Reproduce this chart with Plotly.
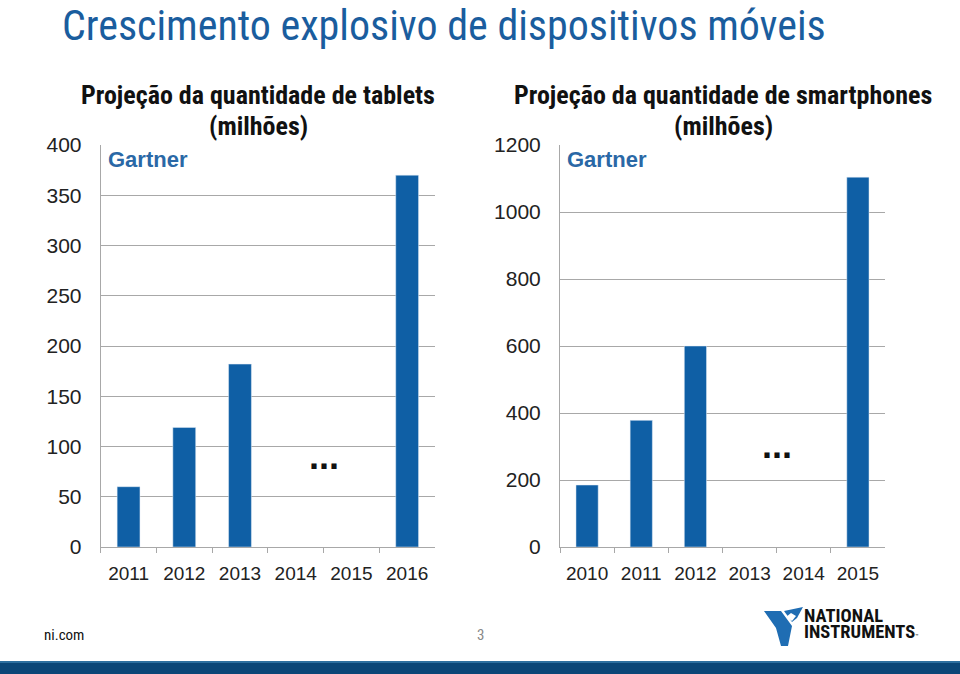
import plotly.graph_objects as go

# ---- data ----
tablet_years = ["2011", "2012", "2013", "2014", "2015", "2016"]
tablet_units = [60, 119, 182, None, None, 370]
phone_years = ["2010", "2011", "2012", "2013", "2014", "2015"]
phone_units = [185, 378, 600, None, None, 1104]

BLUE = "#0f5fa5"
GRID = "#a8a8a8"
NARROW = "Liberation Sans Narrow, Arial Narrow, Roboto Condensed, Liberation Sans, Arial"
W, H = 960, 674

fig = go.Figure()
fig.add_trace(go.Bar(x=tablet_years, y=tablet_units, marker_color=BLUE,
                     xaxis="x", yaxis="y", width=0.41, showlegend=False))
fig.add_trace(go.Bar(x=phone_years, y=phone_units, marker_color=BLUE,
                     xaxis="x2", yaxis="y2", width=0.41, showlegend=False))

def px(x):
    return x / W

def py(y):
    return 1 - y / H

tickfont_y = dict(family="Liberation Sans, Arial", size=21, color="#222")
tickfont_x = dict(family="Liberation Sans, Arial", size=19, color="#222")

common_x = dict(type="category", showline=True, linecolor=GRID, linewidth=1,
                ticks="outside", tickson="boundaries", ticklen=5, tickcolor=GRID,
                tickfont=tickfont_x, showgrid=False, zeroline=False, fixedrange=True,
                automargin=False, ticklabelstandoff=9)
common_y = dict(showline=True, linecolor=GRID, linewidth=1, showgrid=True,
                gridcolor=GRID, gridwidth=1, ticks="", tickfont=tickfont_y,
                zeroline=False, ticklabelstandoff=14, fixedrange=True, automargin=False)

fig.update_layout(
    width=W, height=H, margin=dict(l=0, r=0, t=0, b=0, pad=0, autoexpand=False),
    paper_bgcolor="white", plot_bgcolor="white",
    bargap=0.59,
    xaxis=dict(domain=[px(100.7), px(435)], anchor="y", **common_x),
    yaxis=dict(domain=[py(547), py(145)], anchor="x", range=[0, 400], dtick=50, **common_y),
    xaxis2=dict(domain=[px(560), px(885)], anchor="y2", **common_x),
    yaxis2=dict(domain=[py(547), py(145)], anchor="x2", range=[0, 1200], dtick=200, **common_y),
)

ann = []
# main title
ann.append(dict(text="Crescimento explosivo de dispositivos móveis", x=px(60), y=py(25),
                xref="paper", yref="paper", xanchor="left", yanchor="middle", showarrow=False,
                font=dict(family=NARROW, size=42, color="#1a5d9e")))
# chart titles
for cx, t in [(258, "Projeção da quantidade de tablets"), (723, "Projeção da quantidade de smartphones")]:
    ann.append(dict(text="<b>" + t + "</b>", x=px(cx), y=py(95), xref="paper", yref="paper",
                    xanchor="center", yanchor="middle", showarrow=False,
                    font=dict(family=NARROW, size=26, color="#111")))
    ann.append(dict(text="<b>(milhões)</b>", x=px(cx), y=py(126), xref="paper", yref="paper",
                    xanchor="center", yanchor="middle", showarrow=False,
                    font=dict(family=NARROW, size=26, color="#111")))
# Gartner logos
for gx in [106, 565]:
    ann.append(dict(text="<b>Gartner</b>", x=px(gx), y=py(159), xref="paper", yref="paper",
                    xanchor="left", yanchor="middle", showarrow=False,
                    font=dict(family="Liberation Sans, Arial", size=22, color="#2a68a6")))
# ellipses
ann.append(dict(text="<b>...</b>", x=3.5, y=90, xref="x", yref="y", showarrow=False,
                yanchor="middle", font=dict(family="Liberation Sans, Arial", size=36, color="#111")))
ann.append(dict(text="<b>...</b>", x=3.5, y=302, xref="x2", yref="y2", showarrow=False,
                yanchor="middle", font=dict(family="Liberation Sans, Arial", size=36, color="#111")))
# footer
ann.append(dict(text="ni.com", x=px(42), y=py(635), xref="paper", yref="paper", xanchor="left",
                yanchor="middle", showarrow=False, font=dict(family=NARROW, size=15, color="#111")))
ann.append(dict(text="3", x=px(480), y=py(635), xref="paper", yref="paper", xanchor="center",
                yanchor="middle", showarrow=False, font=dict(family=NARROW, size=15, color="#888")))
ann.append(dict(text="<b>NATIONAL</b>", x=px(802), y=py(616), xref="paper", yref="paper",
                xanchor="left", yanchor="middle", showarrow=False,
                font=dict(family=NARROW, size=18.5, color="#111")))
ann.append(dict(text="<b>INSTRUMENTS</b><span style='font-size:6px'>™</span>", x=px(802), y=py(632),
                xref="paper", yref="paper", xanchor="left", yanchor="middle", showarrow=False,
                font=dict(family=NARROW, size=18.5, color="#111")))
fig.update_layout(annotations=ann)

shapes = []
# bottom band
shapes.append(dict(type="rect", xref="paper", yref="paper", x0=0, x1=1, y0=0, y1=py(661),
                   line=dict(width=0), fillcolor="#0b4677"))
shapes.append(dict(type="rect", xref="paper", yref="paper", x0=0, x1=1, y0=py(663), y1=py(661),
                   line=dict(width=0), fillcolor="#2d6f9f"))

# NI logo mark (stylised)
def pth(pts):
    return "M " + " L ".join(f"{px(x):.5f},{py(y):.5f}" for x, y in pts) + " Z"

shapes.append(dict(type="path", xref="paper", yref="paper",
                   path=pth([(764, 611), (781, 611), (792, 626), (788, 646), (781, 646), (776, 628)]),
                   line=dict(width=0), fillcolor="#1f6db3"))
shapes.append(dict(type="path", xref="paper", yref="paper",
                   path=pth([(784, 611), (803, 607), (797, 618), (792, 622)]),
                   line=dict(width=0), fillcolor="#1f6db3"))
shapes.append(dict(type="path", xref="paper", yref="paper",
                   path=pth([(786, 617), (791, 613), (796, 616), (792, 621)]),
                   line=dict(width=0), fillcolor="#ffffff"))
fig.update_layout(shapes=shapes)

fig.write_html("out.html")
